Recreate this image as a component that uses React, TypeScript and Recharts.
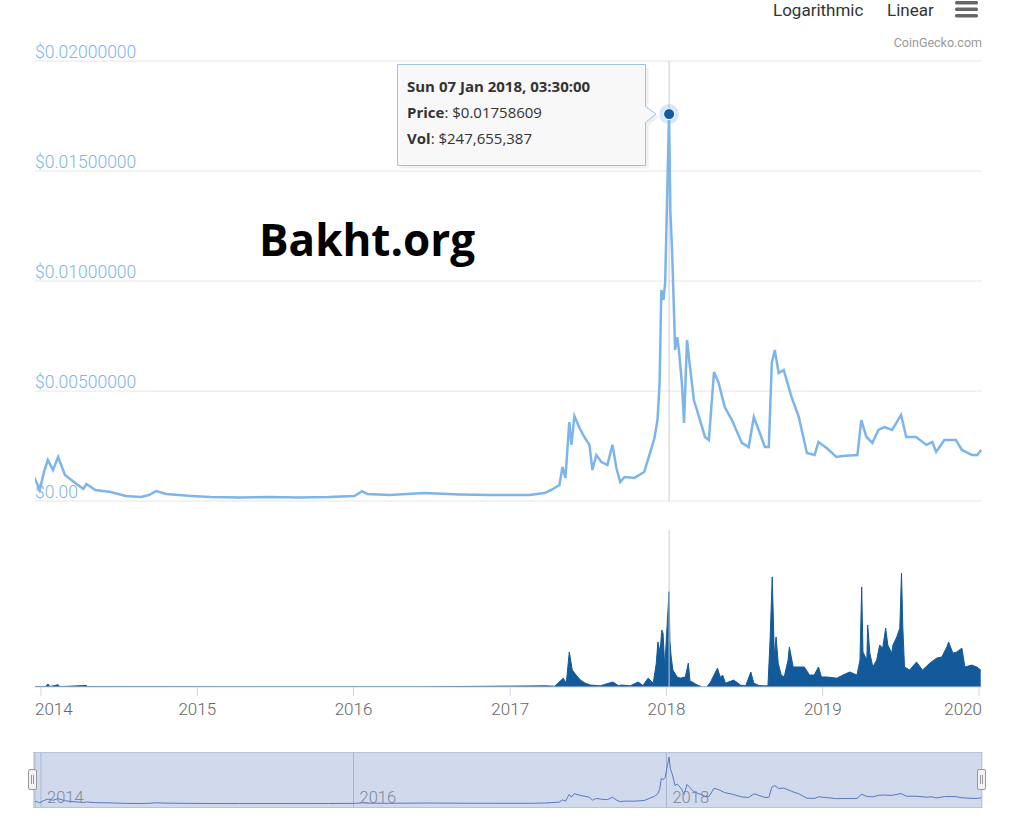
import React from "react";
import {
  LineChart,
  AreaChart,
  Line,
  Area,
  XAxis,
  YAxis,
  CartesianGrid,
  ReferenceLine,
  ReferenceDot,
} from "recharts";

// price history (USD)
const priceDates = [
  "2013-12-17", "2013-12-29", "2014-01-08", "2014-01-17", "2014-01-29", "2014-02-10", "2014-02-26",
  "2014-03-22", "2014-04-10", "2014-04-17", "2014-05-08", "2014-06-13", "2014-07-18", "2014-08-23",
  "2014-09-10", "2014-09-27", "2014-10-20", "2014-12-18", "2015-02-01", "2015-04-10", "2015-06-19",
  "2015-08-27", "2015-11-04", "2016-01-03", "2016-01-21", "2016-02-02", "2016-03-25", "2016-06-15",
  "2016-09-05", "2016-11-14", "2017-01-12", "2017-02-15", "2017-03-22", "2017-04-07", "2017-04-26",
  "2017-05-03", "2017-05-10", "2017-05-19", "2017-05-24", "2017-05-31", "2017-06-12", "2017-06-23",
  "2017-07-05", "2017-07-12", "2017-07-21", "2017-08-02", "2017-08-16", "2017-08-28", "2017-09-06",
  "2017-09-15", "2017-09-25", "2017-10-18", "2017-11-10", "2017-11-22", "2017-12-04", "2017-12-11",
  "2017-12-16", "2017-12-20", "2017-12-25", "2017-12-29", "2018-01-07", "2018-01-10", "2018-01-14",
  "2018-01-19", "2018-01-21", "2018-01-26", "2018-01-30", "2018-02-06", "2018-02-11", "2018-02-18",
  "2018-02-25", "2018-03-06", "2018-03-18", "2018-04-01", "2018-04-10", "2018-04-22", "2018-05-03",
  "2018-05-17", "2018-06-03", "2018-06-26", "2018-07-12", "2018-07-24", "2018-08-07", "2018-08-19",
  "2018-08-28", "2018-09-04", "2018-09-11", "2018-09-20", "2018-10-02", "2018-10-20", "2018-11-06",
  "2018-11-25", "2018-12-13", "2018-12-22", "2019-01-10", "2019-02-02", "2019-02-16", "2019-03-23",
  "2019-04-01", "2019-04-13", "2019-04-27", "2019-05-11", "2019-05-25", "2019-06-12", "2019-07-03",
  "2019-07-15", "2019-08-07", "2019-08-31", "2019-09-14", "2019-09-23", "2019-10-12", "2019-11-08",
  "2019-11-22", "2019-12-16", "2019-12-28", "2020-01-06",
];
const prices = [
  0.00105, 0.0005, 0.00132, 0.00186, 0.00141, 0.002, 0.00118,
  0.00082, 0.00055, 0.00077, 0.0005, 0.00041, 0.00023, 0.00018,
  0.00027, 0.00045, 0.00032, 0.00023, 0.00018, 0.00016, 0.00018,
  0.00016, 0.00018, 0.00023, 0.00045, 0.00032, 0.00027, 0.00036,
  0.0003, 0.00027, 0.00027, 0.00027, 0.00036, 0.0005, 0.00073,
  0.00155, 0.00105, 0.00359, 0.00255, 0.00386, 0.00332, 0.00291,
  0.00255, 0.00141, 0.00209, 0.00177, 0.00164, 0.00255, 0.0015,
  0.00086, 0.00109, 0.00105, 0.00132, 0.00209, 0.00286, 0.00368,
  0.00536, 0.00959, 0.00914, 0.00995, 0.01758609, 0.01323, 0.01141,
  0.00836, 0.00686, 0.00745, 0.00686, 0.00536, 0.00355, 0.00732,
  0.00609, 0.00459, 0.00382, 0.00291, 0.00277, 0.00586, 0.00536,
  0.00427, 0.00368, 0.00264, 0.00245, 0.00382, 0.00309, 0.00245,
  0.00245, 0.00627, 0.00686, 0.00582, 0.00595, 0.00473, 0.00382,
  0.00218, 0.00209, 0.00268, 0.00241, 0.002, 0.00205, 0.00209,
  0.00368, 0.00291, 0.00264, 0.00323, 0.00336, 0.00323, 0.00391,
  0.00291, 0.00291, 0.00255, 0.00268, 0.00223, 0.00277, 0.00277,
  0.00232, 0.00209, 0.00209, 0.00232,
];

// 24h volume (USD millions)
const volumeDates = [
  "2013-12-18", "2014-01-12", "2014-01-17", "2014-01-22", "2014-02-10", "2014-02-14", "2014-04-17",
  "2014-04-20", "2015-06-01", "2016-06-01", "2017-03-25", "2017-04-15", "2017-05-05", "2017-05-12",
  "2017-05-19", "2017-05-26", "2017-06-04", "2017-06-14", "2017-06-25", "2017-07-07", "2017-07-30",
  "2017-08-29", "2017-09-10", "2017-09-19", "2017-10-08", "2017-10-27", "2017-11-07", "2017-11-19",
  "2017-12-01", "2017-12-08", "2017-12-12", "2017-12-17", "2017-12-21", "2017-12-24", "2017-12-28",
  "2018-01-07", "2018-01-09", "2018-01-12", "2018-01-16", "2018-01-26", "2018-02-02", "2018-02-14",
  "2018-02-21", "2018-02-25", "2018-03-02", "2018-03-14", "2018-03-21", "2018-03-25", "2018-04-05",
  "2018-04-14", "2018-04-30", "2018-05-07", "2018-05-12", "2018-05-19", "2018-06-07", "2018-06-23",
  "2018-07-05", "2018-07-17", "2018-07-24", "2018-08-05", "2018-08-17", "2018-08-26", "2018-08-31",
  "2018-09-05", "2018-09-10", "2018-09-14", "2018-09-19", "2018-09-26", "2018-10-03", "2018-10-12",
  "2018-10-15", "2018-10-24", "2018-11-07", "2018-11-19", "2018-12-01", "2018-12-12", "2018-12-22",
  "2018-12-29", "2019-01-11", "2019-02-03", "2019-02-17", "2019-03-05", "2019-03-22", "2019-03-29",
  "2019-04-02", "2019-04-05", "2019-04-14", "2019-04-16", "2019-04-21", "2019-04-28", "2019-05-07",
  "2019-05-14", "2019-05-21", "2019-05-28", "2019-06-02", "2019-06-11", "2019-06-14", "2019-06-23",
  "2019-06-30", "2019-07-04", "2019-07-07", "2019-07-11", "2019-07-23", "2019-08-08", "2019-08-22",
  "2019-09-08", "2019-09-24", "2019-10-06", "2019-10-18", "2019-10-22", "2019-11-01", "2019-11-10",
  "2019-11-22", "2019-11-29", "2019-12-15", "2019-12-27", "2020-01-05",
];
const volumes = [
  1, 1, 8, 1, 6, 1, 4,
  1, 0.5, 0.5, 3, 2, 23, 10,
  91, 44, 31, 18, 10, 5, 3,
  13, 4, 5, 3, 13, 4, 23,
  10, 60, 117, 90, 148, 140, 52,
  247.655387, 120, 78, 44, 26, 23, 26,
  62, 15, 13, 5, 2, 0, 0,
  13, 49, 25, 31, 10, 18, 5,
  3, 39, 10, 4, 3, 3, 122,
  286, 78, 130, 62, 31, 26, 70,
  104, 52, 52, 52, 31, 31, 52,
  26, 26, 23, 31, 39, 31, 70,
  260, 91, 70, 161, 88, 52, 70,
  109, 101, 153, 109, 88, 109, 130,
  153, 296, 156, 52, 44, 65, 44,
  62, 75, 78, 104, 117, 88, 91,
  101, 52, 57, 52, 44,
];

const yearTicks = ["2014-01-01", "2015-01-01", "2016-01-01", "2017-01-01", "2018-01-01", "2019-01-01", "2020-01-01"];
const navTicks = ["2014-01-01", "2016-01-01", "2018-01-01"];
const priceTicks = [0, 0.005, 0.01, 0.015, 0.02];
const rangeStart = "2013-12-18";
const rangeEnd = "2020-01-08";
const hovered = { date: "2018-01-07", label: "Sun 07 Jan 2018, 03:30:00", price: 0.01758609, volume: 247655387 };

const ts = (d: string) => Date.parse(d + "T00:00:00Z");
const domain = [ts(rangeStart), ts(rangeEnd)];
const priceRows = priceDates.map((d, i) => ({ t: ts(d), price: prices[i] }));
const volumeRows = volumeDates.map((d, i) => ({ t: ts(d), volume: volumes[i] * 1e6 }));

const FONT = "Roboto, 'Liberation Sans', sans-serif";
const MARGIN = { left: 35, right: 42 };

const PriceTick = ({ x, y, payload }: any) => (
  <text x={x} y={y - 3} fill="#7cb5ec" fontSize={17.5} fontWeight={300} fontFamily={FONT} textAnchor="start">
    {payload.value === 0 ? "$0.00" : "$" + payload.value.toFixed(8)}
  </text>
);

const YearTick = ({ x, y, payload, index }: any) => {
  let anchor = "middle";
  let dx = 0;
  if (index === 0) {
    anchor = "start";
    dx = -6;
  } else if (index === yearTicks.length - 1) {
    anchor = "end";
    dx = 3;
  }
  return (
    <text x={x + dx} y={y} dy="0.71em" fill="#666" fontSize={17} fontWeight={300} fontFamily={FONT} textAnchor={anchor}>
      {new Date(payload.value).getUTCFullYear()}
    </text>
  );
};

const NavTick = ({ x, y, payload }: any) => (
  <text x={x + 6} y={y - 5} fill="#888" fontSize={16.5} fontWeight={300} fontFamily={FONT} textAnchor="start">
    {new Date(payload.value).getUTCFullYear()}
  </text>
);

const HoverDot = ({ cx, cy }: any) => (
  <g>
    <circle cx={cx} cy={cy} r={10} fill="#7cb5ec" fillOpacity={0.3} />
    <circle cx={cx} cy={cy} r={5.5} fill="#0f5b9e" stroke="#ffffff" strokeWidth={1} />
  </g>
);

export default function App() {
  const hoverT = ts(hovered.date) + 3.5 * 3600 * 1000;

  return (
    <div style={{ position: "absolute", left: 0, top: 0, width: 1024, height: 821, background: "#fff", overflow: "hidden" }}>
      {/* price pane */}
      <div style={{ position: "absolute", left: 0, top: 0 }}>
        <LineChart width={1024} height={510} data={priceRows} margin={{ top: 61, bottom: 9, left: 34, right: 42 }}>
          <CartesianGrid vertical={false} stroke="#e6e6e6" />
          <XAxis dataKey="t" type="number" domain={domain} allowDataOverflow hide />
          <YAxis
            type="number"
            domain={[0, 0.02]}
            ticks={priceTicks}
            interval={0}
            width={1}
            tickSize={0}
            tickMargin={0}
            axisLine={false}
            tickLine={false}
            tick={<PriceTick />}
          />
          <ReferenceLine x={hoverT} stroke="#cccccc" />
          <Line
            type="linear"
            dataKey="price"
            stroke="#7cb5ec"
            strokeWidth={2.5}
            dot={false}
            isAnimationActive={false}
          />
          <ReferenceDot x={hoverT} y={hovered.price} shape={<HoverDot />} />
        </LineChart>
      </div>

      {/* volume pane */}
      <div style={{ position: "absolute", left: 0, top: 510 }}>
        <AreaChart width={1024} height={230} data={volumeRows} margin={{ top: 20, bottom: 23, ...MARGIN }}>
          <XAxis
            dataKey="t"
            type="number"
            domain={domain}
            allowDataOverflow
            ticks={yearTicks.map(ts)}
            interval={0}
            height={30}
            tickSize={9}
            tickMargin={7}
            stroke="#ccd6eb"
            tick={<YearTick />}
          />
          <YAxis hide domain={[0, 408e6]} allowDataOverflow />
          <ReferenceLine x={hoverT} stroke="#cccccc" />
          <Area
            type="linear"
            dataKey="volume"
            stroke="#135a9a"
            strokeWidth={1}
            fill="#135a9a"
            fillOpacity={1}
            isAnimationActive={false}
          />
        </AreaChart>
      </div>

      {/* navigator */}
      <div style={{ position: "absolute", left: 0, top: 752 }}>
        <LineChart width={1024} height={57} data={priceRows} margin={{ top: 0, bottom: 0, ...MARGIN }}>
          <CartesianGrid horizontal={false} stroke="#c4cbe0" />
          <XAxis
            dataKey="t"
            type="number"
            domain={domain}
            allowDataOverflow
            ticks={navTicks.map(ts)}
            interval={0}
            height={1}
            tickSize={0}
            tickMargin={0}
            axisLine={false}
            tickLine={false}
            tick={<NavTick />}
          />
          <YAxis hide domain={[-0.0015, 0.01945]} allowDataOverflow />
          <Line type="linear" dataKey="price" stroke="#4f74bd" strokeWidth={1} dot={false} isAnimationActive={false} />
        </LineChart>
      </div>
      <div
        style={{
          position: "absolute",
          left: 33,
          top: 752,
          width: 949,
          height: 56,
          background: "rgba(102,133,194,0.3)",
          borderTop: "1px solid #b8c2de",
          borderBottom: "1px solid #b8c2de",
          boxSizing: "border-box",
        }}
      />
      {[28, 977].map((left) => (
        <div
          key={left}
          style={{
            position: "absolute",
            left,
            top: 769,
            width: 9,
            height: 21,
            background: "#f2f2f2",
            border: "1px solid #999",
            borderRadius: 2,
            boxSizing: "border-box",
          }}
        >
          <div style={{ position: "absolute", left: 2, top: 5, width: 1, height: 9, background: "#999" }} />
          <div style={{ position: "absolute", left: 4, top: 5, width: 1, height: 9, background: "#999" }} />
        </div>
      ))}

      {/* overlay: toolbar, credits, watermark, tooltip */}
      <svg width={1024} height={821} style={{ position: "absolute", left: 0, top: 0, pointerEvents: "none" }}>
        <text x={773} y={16} fontSize={17} fontFamily={FONT} fill="#333">Logarithmic</text>
        <text x={887} y={16} fontSize={17} fontFamily={FONT} fill="#333">Linear</text>
        {[1, 7.5, 14].map((y) => (
          <rect key={y} x={955} y={y} width={23} height={3.5} rx={1.5} fill="#666" />
        ))}
        <text x={982} y={47} fontSize={12.5} fontFamily={FONT} fill="#999" textAnchor="end">CoinGecko.com</text>

        <text x={259} y={256} fontSize={44} fontWeight={700} fontFamily="'Open Sans', 'Liberation Sans', sans-serif" fill="#000">
          Bakht.org
        </text>

        <path
          d="M400.5 67.5 H648.5 V109.5 L659 117 L648.5 125.5 V168.5 H400.5 Z"
          fill="rgba(0,0,0,0.06)"
        />
        <path
          d="M397.5 64.5 H645.5 V106.5 L656 114 L645.5 122.5 V165.5 H397.5 Z"
          fill="rgba(248,248,248,0.92)"
          stroke="#9cc3e8"
          strokeWidth={1}
        />
        <g fontFamily="'Open Sans', 'DejaVu Sans', sans-serif" fontSize={15} fill="#333">
          <text x={407} y={92} fontWeight={700}>{hovered.label}</text>
          <text x={407} y={118}>
            <tspan fontWeight={700}>Price</tspan>: ${hovered.price.toFixed(8)}
          </text>
          <text x={407} y={144}>
            <tspan fontWeight={700}>Vol</tspan>: ${hovered.volume.toLocaleString("en-US")}
          </text>
        </g>
      </svg>
    </div>
  );
}
